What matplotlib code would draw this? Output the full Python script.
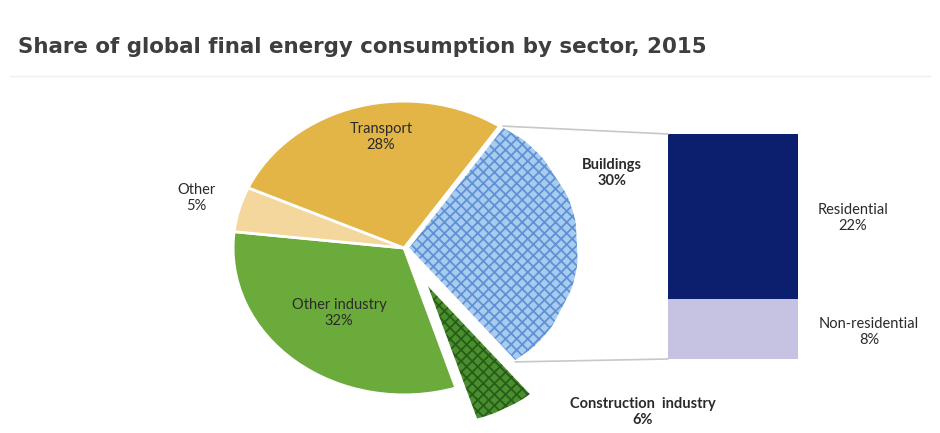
import matplotlib.pyplot as plt
from matplotlib.patches import ConnectionPatch
import numpy as np

# sector shares, %
sectors = ['Buildings', 'Construction  industry', 'Other industry', 'Other', 'Transport']
shares = [30, 6, 32, 5, 28]
sector_colors = ['#a8cbf0', '#4a8f2e', '#6bab3b', '#f3d79c', '#e2b546']
hatches = ['xxx', 'xxx', None, None, None]
hatch_colors = ['#5f92d4', '#285c18', None, None, None]
explode = [0.02, 0.25, 0, 0, 0]

# buildings breakdown, %
building_parts = ['Residential', 'Non-residential']
building_shares = [22, 8]
building_colors = ['#0c1f6e', '#c6c3e2']

W, H = 940, 433
fig = plt.figure(figsize=(W / 100, H / 100), dpi=100)
fig.patch.set_facecolor('white')

# pie axes: stretched a little wider than tall
cx, cy, rx, ry = 404, 248, 178, 153
pax = fig.add_axes([(cx - 1.2 * rx) / W, (H - cy - 1.2 * ry) / H,
                    2.4 * rx / W, 2.4 * ry / H])
pax.set_xlim(-1.2, 1.2)
pax.set_ylim(-1.2, 1.2)
pax.axis('off')

plt.rcParams['hatch.linewidth'] = 1.3
wedges, _ = pax.pie(shares, colors=sector_colors, startangle=56, counterclock=False,
                    explode=explode, radius=1.0,
                    wedgeprops=dict(edgecolor='white', linewidth=2))
for w, h, hc in zip(wedges, hatches, hatch_colors):
    if h:
        w.set_hatch(h)
        w.set_edgecolor(hc)
        w.set_linewidth(0)
        # white outline on top of hatched wedge
        outline = plt.Polygon(w.get_path().vertices, closed=True, fill=False,
                              edgecolor='white', linewidth=2,
                              transform=w.get_transform())
        pax.add_patch(outline)
pax.set_aspect('auto')

# stacked bar for buildings
bx0, bx1, by0, by1 = 668, 798, 359, 134
bax = fig.add_axes([bx0 / W, (H - by0) / H, (bx1 - bx0) / W, (by0 - by1) / H])
bottom = 0
for part, val, col in zip(building_parts[::-1], building_shares[::-1], building_colors[::-1]):
    bax.bar(0, val, bottom=bottom, width=1.0, color=col, edgecolor='none')
    bottom += val
bax.set_xlim(-0.5, 0.5)
bax.set_ylim(0, sum(building_shares))
bax.axis('off')

# connector lines from buildings wedge to the bar
bw = wedges[0]
t1, t2 = np.deg2rad(bw.theta1), np.deg2rad(bw.theta2)
off = np.array(bw.center)
for t, yb in [(t2, sum(building_shares)), (t1, 0)]:
    p = off + np.array([np.cos(t), np.sin(t)])
    con = ConnectionPatch(xyA=p, coordsA=pax.transData,
                          xyB=(-0.5, yb), coordsB=bax.transData,
                          color='#c8c8c8', linewidth=1.2)
    fig.add_artist(con)

# overlay for title and labels, in pixel coordinates
ax = fig.add_axes([0, 0, 1, 1], facecolor='none')
ax.set_xlim(0, W)
ax.set_ylim(H, 0)
ax.axis('off')

ax.text(18, 47, 'Share of global final energy consumption by sector, 2015',
        fontsize=15.4, fontweight='bold', color='#3e3e3e', family='DejaVu Sans',
        va='center', ha='left')
ax.plot([10, 930], [76, 76], color='#eeeeee', linewidth=1)

lab = dict(fontsize=10.5, color='#2a2a2a', family='Lato', ha='center', va='center',
           linespacing=1.25)
ax.text(381, 137, 'Transport\n%d%%' % shares[4], **lab)
ax.text(196, 198, 'Other\n%d%%' % shares[3], **lab)
ax.text(339, 313, 'Other industry\n%d%%' % shares[2], **lab)
ax.text(612, 173, 'Buildings\n%d%%' % shares[0], fontweight='bold', **lab)
ax.text(643, 412, 'Construction  industry\n%d%%' % shares[1], fontweight='bold', **lab)
ax.text(853, 218, 'Residential\n%d%%' % building_shares[0], **lab)
ax.text(869, 332, 'Non-residential\n%d%%' % building_shares[1], **lab)

fig.savefig('out.png', dpi=100, facecolor='white')
